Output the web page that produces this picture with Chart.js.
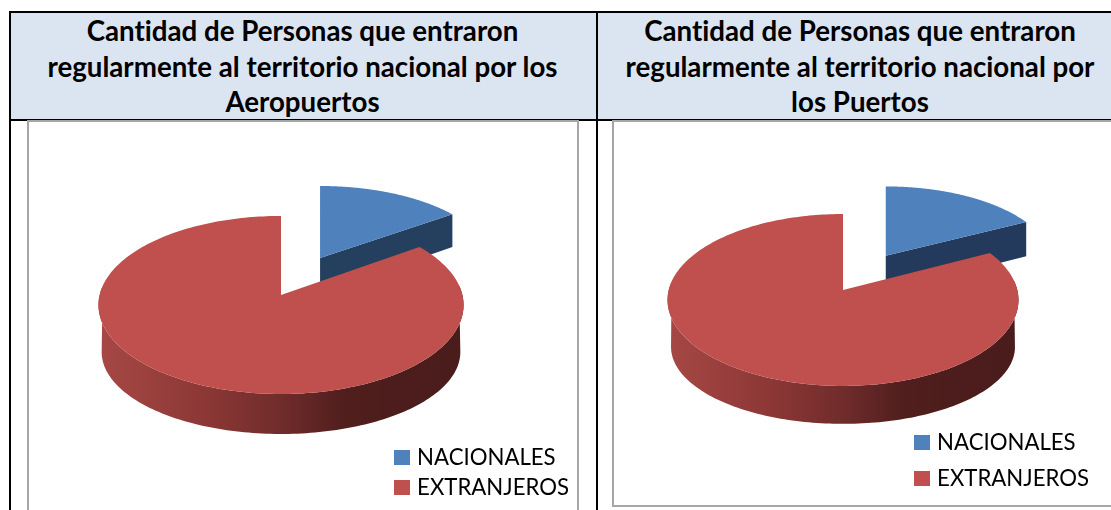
<!DOCTYPE html>
<html lang="es">
<head>
<meta charset="utf-8">
<style>
html,body{margin:0;padding:0;background:#fff;width:1111px;height:510px;overflow:hidden}
.hdr{position:absolute;top:13px;height:106px;background:#DBE5F1}
.ttl{position:absolute;top:13px;text-align:center;font:bold 27.7px/35.5px Lato,sans-serif;font-variant-ligatures:none;color:#000;white-space:nowrap}
.ln{position:absolute;background:#000}
.frame{position:absolute;box-sizing:border-box;border:2px solid #A6A6A6;background:#fff}
canvas{position:absolute}
</style>
</head>
<body>
<div class="hdr" style="left:11px;width:1100px"></div>
<div class="ln" style="left:9px;top:11px;width:1102px;height:2px"></div>
<div class="ln" style="left:9px;top:119px;width:1102px;height:2px"></div>
<div class="ln" style="left:9px;top:11px;width:2px;height:499px"></div>
<div class="ln" style="left:596px;top:11px;width:2px;height:499px"></div>
<div class="frame" style="left:27px;top:120px;width:552px;height:400px"></div>
<div class="frame" style="left:612px;top:120px;width:520px;height:387px"></div>
<div class="ttl" id="t1" style="left:10px;width:585px">Cantidad de Personas que entraron<br>regularmente al territorio nacional por los<br>Aeropuertos</div>
<div class="ttl" id="t2" style="left:598px;width:524px">Cantidad de Personas que entraron<br>regularmente al territorio nacional por<br>los Puertos</div>
<canvas id="c1" width="550" height="388" style="left:29px;top:122px"></canvas>
<canvas id="c2" width="496" height="383" style="left:615px;top:122px"></canvas>
<script src="https://cdn.jsdelivr.net/npm/chart.js@4"></script>
<script>
const categories = ['NACIONALES', 'EXTRANJEROS'];
const aeropuertos = [15.1, 84.9];
const puertos = [17.4, 82.6];
const seriesColors = ['#4F81BD', '#C0504D'];

const views = {
  c1: {x0: 252, y0: 173, b: 181.4, a: 87.9, p: 0.112, k: 0.9825, ky: 0.921, d2: 47.8, dEx: 36.5, explode: [0.495, 0], side: '#25405F'},
  c2: {x0: 228, y0: 168, b: 174.3, a: 84.8, p: 0.116, k: 0.98, ky: 0.895, d2: 48, dEx: 37.6, explode: [0.495, 0], side: '#243A5C'}
};

const pie3d = {
  id: 'pie3d',
  beforeDatasetDraw(chart) {
    const v = views[chart.canvas.id];
    const c = chart.ctx;
    const arcs = chart.getDatasetMeta(0).data;
    const W = Y => 1 - v.p * Y;
    const sx = (X, Y, ox, oy) => ox / W(oy) + (X - ox) / W(Y);
    const top = (X, Y, ox, oy) => [v.x0 + v.b * sx(X, Y, ox, oy), v.y0 + v.a * Y / W(Y)];
    const botEx = (X, Y, ox, oy) => [v.x0 + v.b * sx(X, Y, ox, oy), v.y0 + (v.a * Y + v.dEx) / W(Y)];
    const bot = (X, Y, ox, oy) => [v.x0 + v.k * v.b * sx(X, Y, ox, oy), v.y0 + v.ky * v.a * Y / W(Y) + v.d2];
    const poly = pts => {
      c.beginPath();
      pts.forEach((q, i) => i ? c.lineTo(q[0], q[1]) : c.moveTo(q[0], q[1]));
      c.closePath();
    };
    const grad = c.createLinearGradient(v.x0 - v.b, 0, v.x0 + v.b, 0);
    grad.addColorStop(0, '#A64845');
    grad.addColorStop(0.3, '#8B3735');
    grad.addColorStop(0.5, '#702C2B');
    grad.addColorStop(0.68, '#4F1E1D');
    grad.addColorStop(1, '#4A1C1C');
    const order = arcs.map((el, i) => i).sort((m, n) => v.explode[n] - v.explode[m]);
    order.forEach(i => {
      const el = arcs[i];
      const s = el.startAngle, e = el.endAngle;
      const mid = (s + e) / 2;
      const ox = v.explode[i] * Math.cos(mid), oy = v.explode[i] * Math.sin(mid);
      const T = t => top(ox + Math.cos(t), oy + Math.sin(t), ox, oy);
      const B = t => bot(ox + Math.cos(t), oy + Math.sin(t), ox, oy);
      const n = 240;
      const arcT = [];
      for (let j = 0; j <= n; j++) arcT.push(s + (e - s) * j / n);
      if (v.explode[i] > 0) {
        poly([top(ox, oy, ox, oy), T(e),
              botEx(ox + Math.cos(e), oy + Math.sin(e), ox, oy), botEx(ox, oy, ox, oy)]);
        c.fillStyle = v.side;
        c.fill();
      } else {
        const pts = arcT.filter(t => Math.sin(t) > -0.12).map(T);
        arcT.filter(t => Math.sin(t) > 0.11).reverse().forEach(t => pts.push(B(t)));
        poly(pts);
        c.fillStyle = grad;
        c.fill();
      }
      poly([top(ox, oy, ox, oy)].concat(arcT.map(T)));
      c.fillStyle = el.options.backgroundColor;
      c.fill();
    });
    return false;
  }
};

function swatch(color) {
  const cv = document.createElement('canvas');
  cv.width = 16;
  cv.height = 15;
  const g = cv.getContext('2d');
  g.fillStyle = color;
  g.fillRect(0, 0, 16, 15);
  return cv;
}

function makePie(id, values, pad) {
  return new Chart(document.getElementById(id), {
    type: 'pie',
    data: {labels: categories, datasets: [{data: values, backgroundColor: seriesColors, borderWidth: 0}]},
    plugins: [pie3d],
    options: {
      responsive: false,
      animation: false,
      layout: {padding: pad},
      plugins: {
        tooltip: {enabled: false},
        title: {display: false},
        legend: {
          position: 'right',
          align: 'end',
          labels: {
            usePointStyle: true,
            pointStyleWidth: 7.2,
            padding: pad.gap,
            color: '#000',
            font: {family: 'Lato', size: 22.2},
            generateLabels(chart) {
              return Chart.overrides.pie.plugins.legend.labels.generateLabels(chart)
                .map((it, i) => Object.assign(it, {pointStyle: swatch(seriesColors[i])}));
            }
          }
        }
      }
    }
  });
}
makePie('c1', aeropuertos, {right: 0, bottom: 3, gap: 8});
makePie('c2', puertos, {right: 12, bottom: 1, gap: 14});
</script>
</body>
</html>
